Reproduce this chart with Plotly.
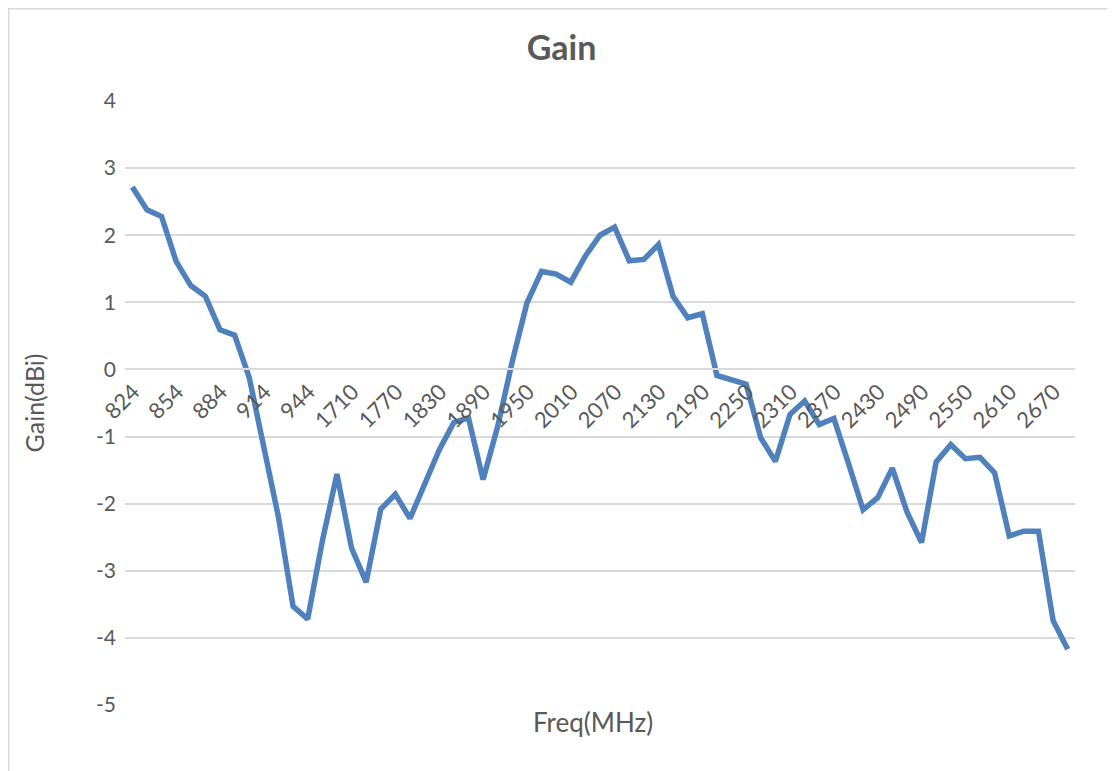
import plotly.graph_objects as go

# Frequency points (MHz): low band in 10 MHz steps, high band in 20 MHz steps
FREQ_LOW = [824, 834, 844, 854, 864, 874, 884, 894, 904, 914, 924, 934, 944, 954, 960]
FREQ_HIGH = list(range(1710, 2691, 20))
FREQS = [str(f) for f in FREQ_LOW + FREQ_HIGH]

GAIN_DBI = [
    2.72, 2.38, 2.28, 1.61, 1.25, 1.09, 0.59, 0.51, -0.12, -1.19,
    -2.20, -3.53, -3.72, -2.56, -1.56, -2.66, -3.17, -2.08, -1.86, -2.22,
    -1.72, -1.20, -0.79, -0.72, -1.64, -0.85, 0.12, 0.99, 1.46, 1.42,
    1.30, 1.69, 2.00, 2.12, 1.62, 1.64, 1.86, 1.09, 0.77, 0.83,
    -0.09, -0.15, -0.22, -1.02, -1.37, -0.67, -0.47, -0.82, -0.73, -1.40,
    -2.09, -1.91, -1.47, -2.12, -2.58, -1.38, -1.12, -1.33, -1.31, -1.54,
    -2.48, -2.41, -2.41, -3.74, -4.17,
]

X_TICKS = FREQS[::3]
Y_TICKS = [4, 3, 2, 1, 0, -1, -2, -3, -4, -5]

FONT = "Lato, Carlito, Calibri, sans-serif"
TEXT_COLOR = "#595959"
GRID_COLOR = "#D9D9D9"

Y_MIN, Y_MAX = -5, 4

# the page body adds an 8px offset, so the figure is a bit smaller than the window
W, H = 1107, 763
L, R, T, B = 117, 40, 93, 66
PLOT_W = W - L - R
PLOT_H = H - T - B

figure = go.Figure(
    go.Scatter(
        x=FREQS,
        y=GAIN_DBI,
        mode="lines",
        line={"color": "#4F81BD", "width": 5.5, "shape": "linear"},
        showlegend=False,
    )
)

figure.update_layout(
    width=W,
    height=H,
    paper_bgcolor="white",
    plot_bgcolor="white",
    margin={"l": L, "r": R, "t": T, "b": B},
    font={"family": FONT, "color": TEXT_COLOR},
    title={
        "text": "<b>Gain</b>",
        "font": {"size": 34, "color": TEXT_COLOR, "family": FONT},
        "x": 0.5,
        "xanchor": "center",
        "y": 1 - 40 / H,
        "yanchor": "middle",
    },
    xaxis={
        "type": "category",
        "range": [-0.5, len(FREQS) - 0.5],
        "anchor": "free",
        "position": (0 - Y_MIN) / (Y_MAX - Y_MIN),
        "showline": True,
        "linecolor": GRID_COLOR,
        "linewidth": 1.5,
        "showgrid": False,
        "zeroline": False,
        "ticks": "",
        "tickmode": "array",
        "tickvals": X_TICKS,
        "ticktext": X_TICKS,
        "tickangle": -45,
        "ticklabelshift": 1,
        "ticklabelstandoff": 0,
        "tickfont": {"size": 22, "color": TEXT_COLOR},
    },
    yaxis={
        "range": [Y_MIN, Y_MAX],
        "tickmode": "array",
        "tickvals": Y_TICKS,
        "ticktext": [str(v) for v in Y_TICKS],
        "showgrid": True,
        "gridcolor": GRID_COLOR,
        "gridwidth": 1.5,
        "zeroline": False,
        "ticks": "",
        "tickfont": {"size": 21, "color": TEXT_COLOR},
        "ticklabelstandoff": 8,
        "title": {
            "text": "Gain(dBi)",
            "font": {"size": 25, "color": TEXT_COLOR},
            "standoff": 44,
        },
    },
    annotations=[
        {
            "text": "Freq(MHz)",
            "xref": "paper",
            "yref": "paper",
            "x": 0.493,
            "y": -17 / PLOT_H,
            "xanchor": "center",
            "yanchor": "middle",
            "showarrow": False,
            "font": {"size": 26, "color": TEXT_COLOR},
        }
    ],
    shapes=[
        {
            "type": "rect",
            "xref": "paper",
            "yref": "paper",
            "x0": (0.75 - L) / PLOT_W,
            "x1": (1104 - L) / PLOT_W,
            "y0": -(H + 10 - T - PLOT_H) / PLOT_H,
            "y1": (T - 0.75 + PLOT_H) / PLOT_H,
            "line": {"color": GRID_COLOR, "width": 1.5},
            "layer": "below",
        }
    ],
)

figure.write_html("out.html")
